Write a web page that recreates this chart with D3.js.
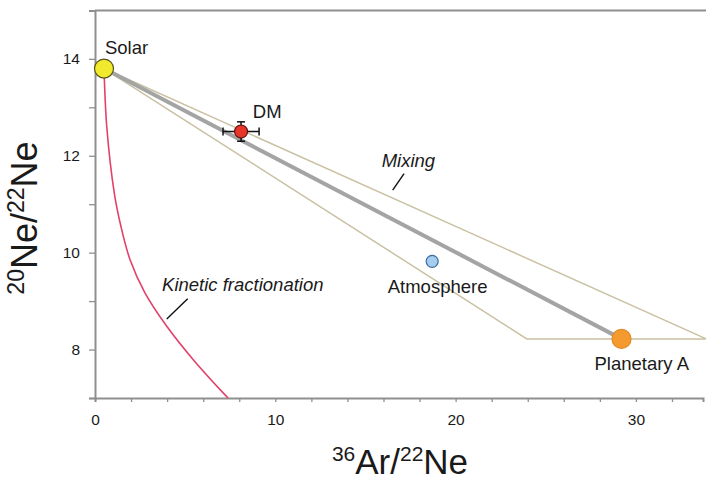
<!DOCTYPE html>
<html>
<head>
<meta charset="utf-8">
<script src="https://cdn.jsdelivr.net/npm/d3@7"></script>
<style>
  body { margin: 0; background: #fff; }
  svg { display: block; font-family: "Liberation Sans", Arial, sans-serif; }
</style>
</head>
<body>
<svg id="chart" width="706" height="489"></svg>
<script>
// end members and samples (36Ar/22Ne, 20Ne/22Ne)
const pointNames = ["Solar", "DM", "Atmosphere", "Planetary A"];
const pointX = [0.5, 8.1, 18.7, 29.2];
const pointY = [13.8, 12.5, 9.82, 8.22];
const dmErrX = 1.0;
const dmErrY = 0.2;

// mixing envelope vertices
const envX = [0.5, 23.95, 33.9];
const envY = [13.8, 8.22, 8.22];

// kinetic fractionation curve
const kinX = [0.5, 0.52, 0.65, 1.07, 1.44, 1.94, 2.77, 3.98, 5.45, 7.12, 7.38];
const kinY = [13.8, 13.57, 12.61, 11.23, 10.54, 9.86, 9.17, 8.48, 7.79, 7.10, 7.0];

const xTickLabels = [0, 10, 20, 30];
const yTickLabels = [8, 10, 12, 14];

let width = 706;
let height = 489;
let plotLeft = 95, plotRight = 703, plotTop = 10.4, plotBottom = 398;

let svg = d3.select("#chart");

let x = d3.scaleLinear().domain([0, 33.72]).range([plotLeft, plotRight]);
let y = d3.scaleLinear().domain([7, 15]).range([plotBottom, plotTop]);

const axisColor = "#8f8f8f";
const textColor = "#1a1a1a";

// top frame line
svg.append("line")
    .attr("x1", plotLeft).attr("x2", width)
    .attr("y1", y(15)).attr("y2", y(15))
    .style("stroke", axisColor).style("stroke-width", 2);

// axes
let yAxis = svg.append("g")
    .attr("transform", "translate(" + plotLeft + ",0)")
    .call(d3.axisLeft(y).tickValues(d3.range(7, 16))
        .tickSize(6).tickPadding(9)
        .tickFormat(d => yTickLabels.includes(d) ? d : ""));
let xAxis = svg.append("g")
    .attr("transform", "translate(0," + plotBottom + ")")
    .call(d3.axisBottom(x).tickValues(d3.range(0, 34, 2))
        .tickSize(4).tickPadding(12)
        .tickFormat(d => xTickLabels.includes(d) ? d : ""));

[xAxis, yAxis].forEach(g => {
    g.select(".domain").style("stroke", axisColor).style("stroke-width", 2);
    g.selectAll(".tick line").style("stroke", axisColor).style("stroke-width", 1.3);
    g.selectAll(".tick text")
        .style("font-family", "'Liberation Sans', Arial, sans-serif")
        .style("font-size", "15.5px")
        .style("fill", textColor);
});

// kinetic fractionation curve
let kinData = kinX.map((v, i) => ({x: v, y: kinY[i]}));
svg.append("path")
    .datum(kinData)
    .attr("fill", "none")
    .attr("stroke", "#e2416a")
    .attr("stroke-width", 1.6)
    .attr("d", d3.line()
        .x(d => x(d.x))
        .y(d => y(d.y))
        .curve(d3.curveCatmullRom.alpha(0.5)));

// mixing envelope
let envData = envX.map((v, i) => ({x: v, y: envY[i]}));
svg.append("path")
    .datum(envData)
    .attr("fill", "none")
    .attr("stroke", "#c9c1a3")
    .attr("stroke-width", 1.5)
    .attr("d", d3.line().x(d => x(d.x)).y(d => y(d.y)).curve(d3.curveLinearClosed));

// mixing line Solar - Planetary A
svg.append("line")
    .attr("x1", x(pointX[0])).attr("y1", y(pointY[0]))
    .attr("x2", x(pointX[3])).attr("y2", y(pointY[3]))
    .style("stroke", "#a4a4a4")
    .style("stroke-width", 4);

// DM error bars
let dmx = x(pointX[1]), dmy = y(pointY[1]);
let err = svg.append("g").style("stroke", "#111").style("stroke-width", 1.5);
err.append("line").attr("x1", x(pointX[1] - dmErrX)).attr("x2", x(pointX[1] + dmErrX))
    .attr("y1", dmy).attr("y2", dmy);
err.append("line").attr("x1", dmx).attr("x2", dmx)
    .attr("y1", y(pointY[1] - dmErrY)).attr("y2", y(pointY[1] + dmErrY));
[pointX[1] - dmErrX, pointX[1] + dmErrX].forEach(v => {
    err.append("line").attr("x1", x(v)).attr("x2", x(v)).attr("y1", dmy - 4).attr("y2", dmy + 4);
});
[pointY[1] - dmErrY, pointY[1] + dmErrY].forEach(v => {
    err.append("line").attr("x1", dmx - 4).attr("x2", dmx + 4).attr("y1", y(v)).attr("y2", y(v));
});

// points
const radius = [9.5, 6.5, 6, 9.5];
const fills = ["#f1e92c", "#e8352a", "#a4cdef", "#f59a2e"];
const strokes = ["#55531c", "#5a1010", "#3b6d9c", "#e08a24"];
svg.selectAll("circle.pt")
    .data(pointNames)
    .join("circle")
    .attr("class", "pt")
    .attr("cx", (d, i) => x(pointX[i]))
    .attr("cy", (d, i) => y(pointY[i]))
    .attr("r", (d, i) => radius[i])
    .style("fill", (d, i) => fills[i])
    .style("stroke", (d, i) => strokes[i])
    .style("stroke-width", 1.2);

// point labels: data position of text anchor
const labelX = [0.55, 8.75, 19.0, 27.7];
const labelY = [14.11, 12.77, 9.17, 7.58];
const labelAnchor = ["start", "start", "middle", "start"];
svg.selectAll("text.lbl")
    .data(pointNames)
    .join("text")
    .attr("class", "lbl")
    .attr("x", (d, i) => x(labelX[i]))
    .attr("y", (d, i) => y(labelY[i]))
    .attr("text-anchor", (d, i) => labelAnchor[i])
    .style("font-size", "18.5px")
    .style("fill", textColor)
    .text(d => d);

// italic annotations with leader lines
function addNote(tx, ty, label, lx1, ly1, lx2, ly2) {
    svg.append("text")
        .attr("x", x(tx)).attr("y", y(ty))
        .style("font-size", "18.5px")
        .style("font-style", "italic")
        .style("fill", textColor)
        .text(label);
    svg.append("line")
        .attr("x1", x(lx1)).attr("y1", y(ly1))
        .attr("x2", x(lx2)).attr("y2", y(ly2))
        .style("stroke", "#111").style("stroke-width", 1.4);
}
addNote(15.9, 11.77, "Mixing", 16.51, 11.29, 17.14, 11.63);
addNote(3.72, 9.21, "Kinetic fractionation", 3.98, 8.63, 5.14, 9.05);

// axis titles
let xt = svg.append("text")
    .attr("x", (plotLeft + plotRight) / 2 + 1)
    .attr("y", 474)
    .attr("text-anchor", "middle")
    .style("font-size", "35px")
    .style("fill", textColor);
xt.append("tspan").style("font-size", "21px").attr("dy", -13).text("36");
xt.append("tspan").attr("dy", 13).text("Ar/");
xt.append("tspan").style("font-size", "21px").attr("dy", -13).text("22");
xt.append("tspan").attr("dy", 13).text("Ne");

let yt = svg.append("text")
    .attr("transform", "translate(37," + 218 + ") rotate(-90)")
    .attr("text-anchor", "middle")
    .style("font-size", "36px")
    .style("fill", textColor);
yt.append("tspan").style("font-size", "23px").attr("dy", -13).text("20");
yt.append("tspan").attr("dy", 13).text("Ne/");
yt.append("tspan").style("font-size", "23px").attr("dy", -13).text("22");
yt.append("tspan").attr("dy", 13).text("Ne");
</script>
</body>
</html>
